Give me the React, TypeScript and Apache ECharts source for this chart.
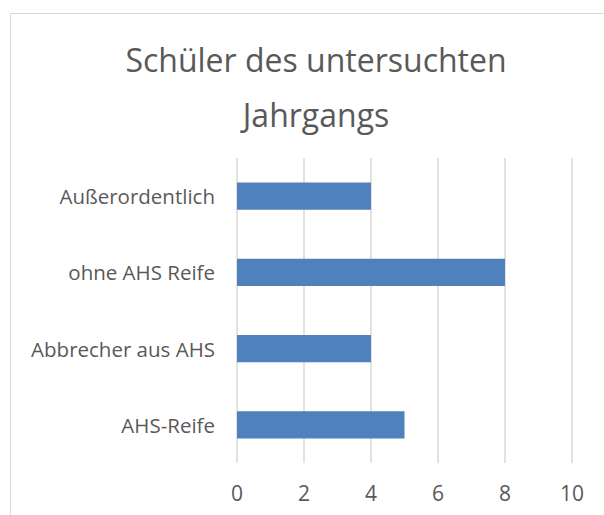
import React, { useEffect, useRef } from "react";
import * as echarts from "echarts";

const categories = ["AHS-Reife", "Abbrecher aus AHS", "ohne AHS Reife", "Außerordentlich"];
const values = [5, 4, 8, 4];
const titleText = "Schüler des untersuchten\nJahrgangs";

export default function App() {
  const ref = useRef<HTMLDivElement>(null);
  useEffect(() => {
    if (!ref.current) return;
    const chart = echarts.init(ref.current, null, { renderer: "svg" });
    chart.setOption({
      animation: false,
      backgroundColor: "#ffffff",
      title: {
        text: titleText,
        left: 311,
        textAlign: "center",
        top: 27,
        textStyle: {
          fontFamily: "Open Sans",
          fontSize: 32,
          fontWeight: "normal",
          color: "#595959",
          lineHeight: 55,
        },
      },
      graphic: [
        {
          type: "rect",
          shape: { x: 10.5, y: 13.5, width: 700, height: 600 },
          style: { fill: "none", stroke: "#d9d9d9", lineWidth: 1 },
          silent: true,
        },
      ],
      grid: { left: 237, right: 32, top: 158, bottom: 52, containLabel: false },
      xAxis: {
        type: "value",
        min: 0,
        max: 10,
        interval: 2,
        axisLine: { show: false },
        axisTick: { show: false },
        splitLine: { show: true, lineStyle: { color: "#d9d9d9", width: 1.5 } },
        axisLabel: { color: "#595959", fontSize: 21, fontFamily: "Open Sans", margin: 19 },
      },
      yAxis: {
        type: "category",
        data: categories,
        axisLine: { show: false },
        axisTick: { show: false },
        axisLabel: { color: "#595959", fontSize: 20.5, fontFamily: "Open Sans", margin: 22 },
      },
      series: [
        {
          type: "bar",
          data: values,
          barCategoryGap: "64%",
          itemStyle: { color: "#4f81bd" },
        },
      ],
    });
    return () => chart.dispose();
  }, []);
  return (
    <div
      ref={ref}
      style={{ position: "fixed", left: 0, top: 0, width: 604, height: 515 }}
    />
  );
}
